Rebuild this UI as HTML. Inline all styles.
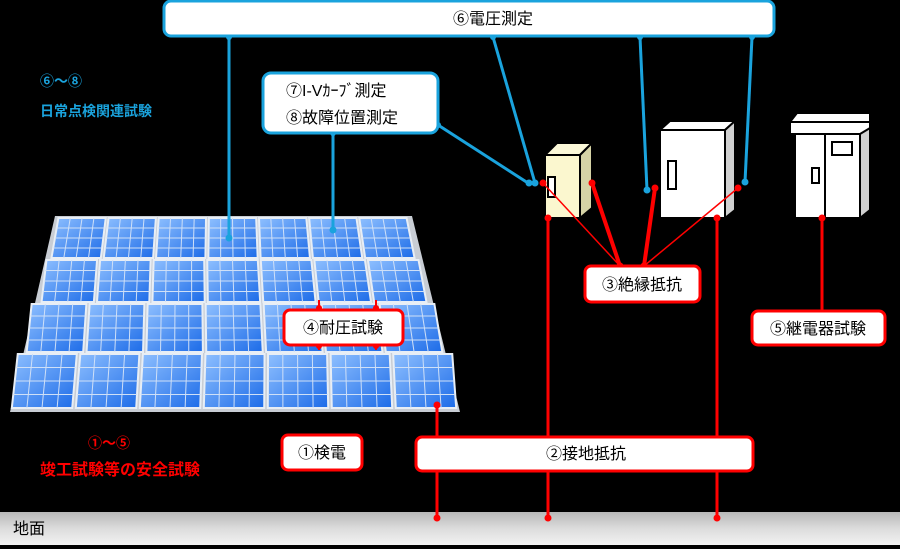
<!DOCTYPE html>
<html><head><meta charset="utf-8">
<style>
html,body{margin:0;padding:0;background:#000;}
body{width:900px;height:549px;overflow:hidden;position:relative;font-family:"Liberation Sans","Noto Sans CJK JP",sans-serif;}
svg{position:absolute;left:0;top:0;}
</style></head>
<body>
<svg id="s" width="900" height="549" viewBox="0 0 900 549" xmlns="http://www.w3.org/2000/svg" font-family="Liberation Sans, Noto Sans CJK JP, sans-serif">
<defs>
<linearGradient id="pg" x1="0" y1="0" x2="1" y2="1">
<stop offset="0" stop-color="#8fc0ff"/><stop offset="1" stop-color="#1c6be8"/>
</linearGradient>
<linearGradient id="gnd" x1="0" y1="0" x2="0" y2="1">
<stop offset="0" stop-color="#b8b8b8"/><stop offset="0.5" stop-color="#dcdcdc"/><stop offset="1" stop-color="#f2f2f2"/>
</linearGradient>
</defs>
<rect x="0" y="512" width="900" height="33" fill="url(#gnd)"/>
<text x="13" y="534" font-size="16" fill="#000">地面</text>
<g id="panels"></g>

<text x="40" y="86" font-size="14" font-weight="bold" fill="#1aa3dd">⑥～⑧</text>
<text x="40" y="116" font-size="14" font-weight="bold" fill="#1aa3dd">日常点検関連試験</text>
<text x="88" y="448" font-size="14" font-weight="bold" fill="#f00">①～⑤</text>
<text x="40" y="475" font-size="16" font-weight="bold" fill="#f00">竣工試験等の安全試験</text>

<g stroke="#000" stroke-width="2">
<polygon points="545,155 557,143 592,143 580,155" fill="#fbf8d8"/>
<polygon points="580,155 592,143 592,208 580,218" fill="#d6d3a6"/>
<rect x="545" y="155" width="35" height="63" fill="#fbf7cf"/>
<rect x="548" y="177" width="7" height="20" fill="#fff"/>
<polygon points="660,130 670,121 735,121 725,130" fill="#fff"/>
<polygon points="725,130 735,121 735,210 725,218" fill="#d0d0d0"/>
<rect x="660" y="130" width="65" height="88" fill="#fff"/>
<rect x="668" y="161" width="8" height="28" fill="#fff"/>
<polygon points="790,122 797,113 870,113 870,124" fill="#fff"/>
<rect x="790" y="122" width="80" height="12" fill="#fff"/>
<polygon points="860,134 870,128 870,210 860,218" fill="#d0d0d0"/>
<rect x="795" y="134" width="65" height="84" fill="#fff"/>
<line x1="825" y1="134" x2="825" y2="218"/>
<rect x="832" y="142" width="20" height="13" fill="#fff"/>
<rect x="812" y="168" width="7" height="15" fill="#fff"/>
</g>

<g stroke="#1aa3dd" stroke-width="3" fill="none">
<line x1="229" y1="37" x2="229" y2="238"/>
<line x1="333" y1="133" x2="333" y2="230"/>
<line x1="493" y1="37" x2="535" y2="183"/>
<polyline points="438,125 528,183"/>
<line x1="640" y1="37" x2="647" y2="190"/>
<line x1="752" y1="37" x2="745" y2="182"/>
</g>
<g fill="#1aa3dd">
<circle cx="229" cy="238" r="3.5"/><circle cx="333" cy="230" r="3.5"/>
<circle cx="535" cy="183" r="3.5"/><circle cx="529" cy="183" r="3.5"/>
<circle cx="647" cy="190" r="3.5"/><circle cx="745" cy="182" r="3.5"/>
<circle cx="493" cy="37" r="3"/><circle cx="640" cy="37" r="3"/><circle cx="752" cy="37" r="3"/><circle cx="229" cy="37" r="3"/>
<circle cx="333" cy="133" r="3"/><circle cx="438" cy="125" r="3"/>
</g>

<g stroke="#f00" fill="none">
<line x1="548" y1="218" x2="548" y2="518" stroke-width="3"/>
<line x1="717" y1="218" x2="717" y2="518" stroke-width="3"/>
<line x1="822" y1="218" x2="822" y2="310" stroke-width="3"/>
<line x1="437" y1="405" x2="437" y2="518" stroke-width="3"/>
<line x1="543" y1="183" x2="620" y2="266" stroke-width="1.5"/>
<line x1="592" y1="183" x2="620" y2="266" stroke-width="4"/>
<line x1="655" y1="188" x2="644" y2="266" stroke-width="4"/>
<line x1="738" y1="188" x2="644" y2="266" stroke-width="1.5"/>
<line x1="319" y1="300" x2="319" y2="350" stroke-width="2"/>
<line x1="376" y1="300" x2="376" y2="350" stroke-width="2"/>
</g>
<g fill="#f00">
<circle cx="548" cy="218" r="3.5"/><circle cx="717" cy="218" r="3.5"/><circle cx="822" cy="218" r="3.5"/>
<circle cx="437" cy="405" r="3.5"/><circle cx="437" cy="518" r="3.5"/><circle cx="548" cy="518" r="3.5"/><circle cx="717" cy="518" r="3.5"/>
<circle cx="543" cy="183" r="3.5"/><circle cx="592" cy="183" r="3.5"/><circle cx="655" cy="188" r="3.5"/><circle cx="738" cy="188" r="3.5"/>
<circle cx="620" cy="266" r="3.5"/><circle cx="644" cy="266" r="3.5"/>
<circle cx="319" cy="308" r="3"/><circle cx="376" cy="308" r="3"/><circle cx="319" cy="346" r="3"/><circle cx="376" cy="346" r="3"/>
</g>

<g font-size="16" fill="#000" text-anchor="middle">
<rect x="164" y="1" width="610" height="35" rx="7" fill="#fff" stroke="#1aa3dd" stroke-width="3"/>
<text x="493" y="24">⑥電圧測定</text>
<rect x="263" y="73" width="175" height="60" rx="8" fill="#fff" stroke="#1aa3dd" stroke-width="3"/>
<text x="286" y="96" text-anchor="start">⑦I-Vｶｰﾌﾞ測定</text>
<text x="286" y="123" text-anchor="start">⑧故障位置測定</text>
<rect x="585" y="266" width="115" height="36" rx="6" fill="#fff" stroke="#f00" stroke-width="3"/>
<text x="642" y="290">③絶縁抵抗</text>
<rect x="284" y="310" width="119" height="35" rx="6" fill="#fff" stroke="#f00" stroke-width="3"/>
<text x="343" y="333">④耐圧試験</text>
<rect x="752" y="311" width="133" height="34" rx="6" fill="#fff" stroke="#f00" stroke-width="3"/>
<text x="818" y="334">⑤継電器試験</text>
<rect x="282" y="435" width="80" height="35" rx="6" fill="#fff" stroke="#f00" stroke-width="3"/>
<text x="322" y="458">①検電</text>
<rect x="416" y="437" width="337" height="34" rx="6" fill="#fff" stroke="#f00" stroke-width="3"/>
<text x="586" y="459">②接地抵抗</text>
</g>
</svg>
<script>
(function(){
var ns="http://www.w3.org/2000/svg",g=document.getElementById("panels");
function el(n,a){var e=document.createElementNS(ns,n);for(var k in a)e.setAttribute(k,a[k]);g.appendChild(e);return e;}
var rows=[[218,258,57,408,50,416],[260,302,45,420,40,428],[304,352,30,436,25,444],[354,408,16,454,10,458]];
el("polygon",{points:"55,216 412,216 460,412 10,412",fill:"#c8cdd4"});
rows.forEach(function(r){
 var y0=r[0],y1=r[1],l0=r[2],r0=r[3],l1=r[4],r1=r[5];
 for(var i=0;i<7;i++){
  var a=i/7+0.004,b=(i+1)/7-0.004;
  var xa0=l0+(r0-l0)*a,xb0=l0+(r0-l0)*b,xa1=l1+(r1-l1)*a,xb1=l1+(r1-l1)*b;
  el("polygon",{points:xa0+","+y0+" "+xb0+","+y0+" "+xb1+","+y1+" "+xa1+","+y1,fill:"url(#pg)",stroke:"#e8eef5","stroke-width":"2"});
  for(var k=1;k<4;k++){
   var t=k/4,y=y0+(y1-y0)*t;
   el("line",{x1:xa0+(xa1-xa0)*t,y1:y,x2:xb0+(xb1-xb0)*t,y2:y,stroke:"#cfe0f7","stroke-width":"1"});
   el("line",{x1:xa0+(xb0-xa0)*t,y1:y0,x2:xa1+(xb1-xa1)*t,y2:y1,stroke:"#cfe0f7","stroke-width":"1"});
  }
 }
});
})();
</script>
</body></html>
